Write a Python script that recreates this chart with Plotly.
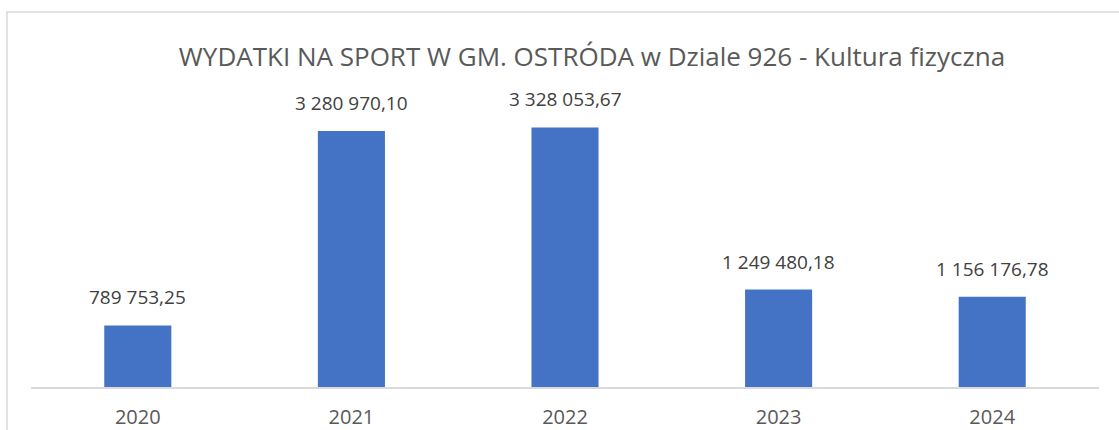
import plotly.graph_objects as go

years = ["2020", "2021", "2022", "2023", "2024"]
values = [789753.25, 3280970.10, 3328053.67, 1249480.18, 1156176.78]
title_text = "WYDATKI NA SPORT W GM. OSTRÓDA w Dziale 926 - Kultura fizyczna"

def fmt(v):
    return f"{v:,.2f}".replace(",", " ").replace(".", ",")

labels = [fmt(v) for v in values]

W, H = 1119, 430
L, R, T, B = 31, 1099, 114, 387  # plot area in pixels

fig = go.Figure()
fig.add_trace(go.Bar(
    x=years, y=values,
    marker=dict(color="#4472C4", line=dict(width=0)),
    hoverinfo="skip",
))

# category positions (index of each year) for the value labels
for i, (v, t) in enumerate(zip(values, labels)):
    fig.add_annotation(x=i, y=v, xref="x", yref="y", text=t, showarrow=False, yanchor="bottom",
                       yshift=13, font=dict(family="Open Sans", size=19, color="#404040"))

pw, ph = R - L, B - T
fig.add_shape(type="rect", xref="paper", yref="paper",
              x0=(7 - L) / pw, x1=(1130 - L) / pw,
              y0=(B - 440) / ph, y1=(B - 12) / ph,
              line=dict(color="#D9D9D9", width=1.5), fillcolor="rgba(0,0,0,0)", layer="below")

fig.update_layout(
    width=W, height=H,
    margin=dict(l=L, r=W - R, t=T, b=H - B, pad=0, autoexpand=False),
    paper_bgcolor="white", plot_bgcolor="white",
    showlegend=False,
    bargap=0.686,
    title=dict(text=title_text, x=592 / W, xanchor="center", y=1 - 57 / H, yanchor="middle",
               xref="container", yref="container",
               font=dict(family="Open Sans", size=26, color="#595959")),
    xaxis=dict(type="category", categoryorder="array", categoryarray=years,
               range=[-0.5, len(years) - 0.5], automargin=False,
               showline=True, linecolor="#D9D9D9", linewidth=2, ticks="",
               ticklabelstandoff=11,
               tickfont=dict(family="Open Sans", size=20, color="#595959"),
               showgrid=False, zeroline=False),
    yaxis=dict(range=[0, 3500000], visible=False, showgrid=False, zeroline=False,
               automargin=False),
)

fig.write_html("out.html", config={"displayModeBar": False},
               post_script="document.body.style.margin='0';")
